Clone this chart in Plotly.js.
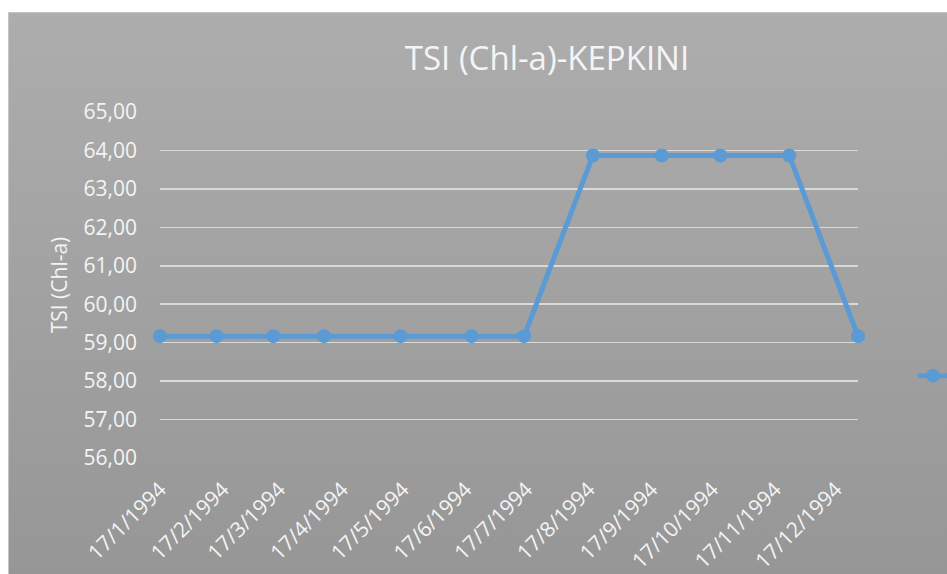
<!DOCTYPE html>
<html>
<head>
<meta charset="utf-8">
<script src="https://cdn.plot.ly/plotly-3.0.1.min.js"></script>
<style>
  html, body { margin: 0; padding: 0; background: #ffffff; }
  #wrap { position: relative; width: 947px; height: 574px; overflow: hidden; }
  #bg { position: absolute; left: 8px; top: 12px; width: 945px; height: 570px;
        background: linear-gradient(#adadad, #969696);
        border-top: 1px solid #c4c4c4; border-left: 1px solid #c4c4c4; }
  #chart { position: absolute; left: 0; top: 0; width: 947px; height: 574px; }
</style>
</head>
<body>
<div id="wrap">
  <div id="bg"></div>
  <div id="chart"></div>
</div>
<script>
const sampleDates = ['1994-01-17','1994-02-14','1994-03-14','1994-04-08','1994-05-16','1994-06-20',
                     '1994-07-16','1994-08-19','1994-09-22','1994-10-21','1994-11-24','1994-12-28'];
const tsiValues = [59.17, 59.17, 59.17, 59.17, 59.17, 59.17, 59.17, 63.87, 63.87, 63.87, 63.87, 59.17];

// Axis tick positions and labels
const tickDates = ['1994-01-17','1994-02-17','1994-03-17','1994-04-17','1994-05-17','1994-06-17',
                   '1994-07-17','1994-08-17','1994-09-17','1994-10-17','1994-11-17','1994-12-17'];
const tickLabels = ['17/1/1994','17/2/1994','17/3/1994','17/4/1994','17/5/1994','17/6/1994',
                    '17/7/1994','17/8/1994','17/9/1994','17/10/1994','17/11/1994','17/12/1994'];
const yTicks = [56, 57, 58, 59, 60, 61, 62, 63, 64, 65];

const seriesName = 'TSI (Chl-a)';
const chartTitle = 'TSI (Chl-a)-KEPKINI';
const yTitle = 'TSI (Chl-a)';

const FONT = 'Open Sans, Liberation Sans, sans-serif';
const TXT = '#f4f4f4';

const trace = {
  type: 'scatter',
  mode: 'lines+markers',
  x: sampleDates,
  y: tsiValues,
  name: seriesName,
  line: { color: '#5b9bd5', width: 5 },
  marker: { color: '#5b9bd5', size: 14 },
  cliponaxis: false
};

const layout = {
  width: 947,
  height: 574,
  paper_bgcolor: 'rgba(0,0,0,0)',
  plot_bgcolor: 'rgba(0,0,0,0)',
  margin: { l: 160, r: 89, t: 112, b: 116 },
  separators: ',.',
  font: { family: FONT, color: TXT, size: 21 },
  title: {
    text: chartTitle,
    font: { family: FONT, size: 33, color: TXT },
    x: 547 / 947, xref: 'container', xanchor: 'center',
    y: 1 - 58 / 574, yref: 'container', yanchor: 'middle'
  },
  xaxis: {
    type: 'date',
    range: [sampleDates[0], sampleDates[sampleDates.length - 1]],
    tickmode: 'array',
    tickvals: tickDates,
    ticktext: tickLabels,
    tickangle: -45,
    showgrid: false,
    zeroline: false,
    showline: false,
    ticks: '',
    ticklabelstandoff: 14,
    tickfont: { family: FONT, size: 21, color: TXT },
    fixedrange: true
  },
  yaxis: {
    range: [56, 65],
    tickmode: 'array',
    tickvals: yTicks,
    tickformat: '.2f',
    showgrid: true,
    gridcolor: '#d9d9d9',
    gridwidth: 1.5,
    zeroline: false,
    showline: false,
    ticks: '',
    ticklabelstandoff: 22,
    tickfont: { family: FONT, size: 21, color: TXT },
    title: { text: yTitle, font: { family: FONT, size: 21, color: TXT }, standoff: 10 },
    fixedrange: true
  },
  showlegend: true,
  legend: {
    xref: 'container', yref: 'container',
    x: 913 / 947, xanchor: 'left',
    y: 1 - 376 / 574, yanchor: 'middle',
    bgcolor: 'rgba(0,0,0,0)',
    font: { family: FONT, size: 21, color: TXT }
  }
};

Plotly.newPlot('chart', [trace], layout, { displayModeBar: false, staticPlot: true });
</script>
</body>
</html>
